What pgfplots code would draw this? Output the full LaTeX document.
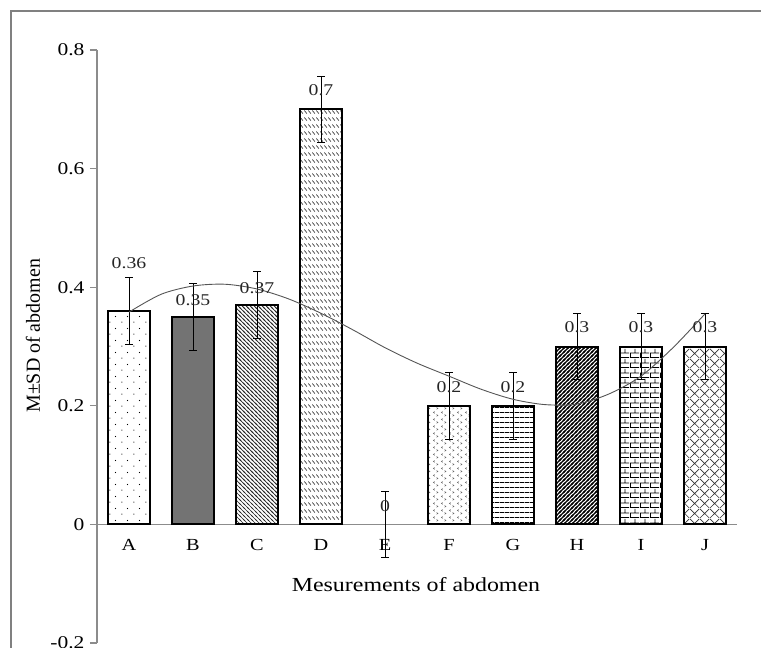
\documentclass[border=0pt]{standalone}
\usepackage{fontspec}
\setmainfont{Liberation Serif}
\newfontfamily\widefont{Liberation Serif}[FakeStretch=1.2]
\usepackage{pgfplots}
\pgfplotsset{compat=1.18}
\usetikzlibrary{patterns,plotmarks}
\definecolor{axgray}{RGB}{140,140,140}
\definecolor{framegray}{RGB}{128,128,128}
\definecolor{curvegray}{RGB}{85,85,85}
\definecolor{bgray}{RGB}{115,115,115}

\pgfdeclarepatternformonly{pA}{\pgfqpoint{0bp}{0bp}}{\pgfqpoint{12bp}{12bp}}{\pgfqpoint{12bp}{12bp}}{%
  \pgfpathcircle{\pgfqpoint{2bp}{2bp}}{0.65bp}\pgfpathcircle{\pgfqpoint{8bp}{8bp}}{0.65bp}\pgfusepath{fill}}
\pgfdeclarepatternformonly{pC}{\pgfqpoint{-1bp}{-1bp}}{\pgfqpoint{5bp}{5bp}}{\pgfqpoint{4bp}{4bp}}{%
  \pgfsetlinewidth{0.7bp}
  \pgfpathmoveto{\pgfqpoint{0bp}{4bp}}\pgfpathlineto{\pgfqpoint{4bp}{0bp}}
  \pgfpathmoveto{\pgfqpoint{-1bp}{1bp}}\pgfpathlineto{\pgfqpoint{1bp}{-1bp}}
  \pgfpathmoveto{\pgfqpoint{3bp}{5bp}}\pgfpathlineto{\pgfqpoint{5bp}{3bp}}
  \pgfusepath{stroke}}
\pgfdeclarepatternformonly{pD}{\pgfqpoint{0bp}{0bp}}{\pgfqpoint{4bp}{7bp}}{\pgfqpoint{4bp}{7bp}}{%
  \pgfsetlinewidth{0.8bp}
  \pgfpathmoveto{\pgfqpoint{0.5bp}{6.2bp}}\pgfpathlineto{\pgfqpoint{3.5bp}{2.8bp}}
  \pgfusepath{stroke}}
\pgfdeclarepatternformonly{pF}{\pgfqpoint{0bp}{0bp}}{\pgfqpoint{8bp}{7bp}}{\pgfqpoint{8bp}{7bp}}{%
  \pgfsetlinewidth{0.6bp}
  \pgfpathmoveto{\pgfqpoint{3bp}{6.2bp}}\pgfpathlineto{\pgfqpoint{1.5bp}{5.2bp}}\pgfpathlineto{\pgfqpoint{3bp}{4.2bp}}
  \pgfpathmoveto{\pgfqpoint{5bp}{2.8bp}}\pgfpathlineto{\pgfqpoint{6.5bp}{1.8bp}}\pgfpathlineto{\pgfqpoint{5bp}{0.8bp}}
  \pgfusepath{stroke}}
\pgfdeclarepatternformonly{pG}{\pgfqpoint{0bp}{0bp}}{\pgfqpoint{5bp}{5bp}}{\pgfqpoint{5bp}{5bp}}{%
  \pgfsetlinewidth{0.8bp}
  \pgfpathmoveto{\pgfqpoint{0bp}{0.5bp}}\pgfpathlineto{\pgfqpoint{5bp}{0.5bp}}
  \pgfusepath{stroke}}
\pgfdeclarepatternformonly{pH}{\pgfqpoint{-1bp}{-1bp}}{\pgfqpoint{5bp}{5bp}}{\pgfqpoint{4bp}{4bp}}{%
  \pgfsetlinewidth{1.3bp}
  \pgfpathmoveto{\pgfqpoint{0bp}{0bp}}\pgfpathlineto{\pgfqpoint{4bp}{4bp}}
  \pgfpathmoveto{\pgfqpoint{-1bp}{3bp}}\pgfpathlineto{\pgfqpoint{1bp}{5bp}}
  \pgfpathmoveto{\pgfqpoint{3bp}{-1bp}}\pgfpathlineto{\pgfqpoint{5bp}{1bp}}
  \pgfusepath{stroke}}
\pgfdeclarepatternformonly{pI}{\pgfqpoint{0bp}{0bp}}{\pgfqpoint{10bp}{10bp}}{\pgfqpoint{10bp}{10bp}}{%
  \pgfsetlinewidth{0.8bp}
  \pgfpathmoveto{\pgfqpoint{0bp}{0.5bp}}\pgfpathlineto{\pgfqpoint{10bp}{0.5bp}}
  \pgfpathmoveto{\pgfqpoint{0bp}{5.5bp}}\pgfpathlineto{\pgfqpoint{10bp}{5.5bp}}
  \pgfpathmoveto{\pgfqpoint{0.5bp}{0.5bp}}\pgfpathlineto{\pgfqpoint{0.5bp}{5.5bp}}
  \pgfpathmoveto{\pgfqpoint{5.5bp}{5.5bp}}\pgfpathlineto{\pgfqpoint{5.5bp}{10bp}}
  \pgfusepath{stroke}}
\pgfdeclarepatternformonly{pJ}{\pgfqpoint{0bp}{0bp}}{\pgfqpoint{10bp}{10bp}}{\pgfqpoint{10bp}{10bp}}{%
  \pgfsetlinewidth{0.7bp}
  \pgfpathmoveto{\pgfqpoint{0bp}{0bp}}\pgfpathlineto{\pgfqpoint{10bp}{10bp}}
  \pgfpathmoveto{\pgfqpoint{0bp}{10bp}}\pgfpathlineto{\pgfqpoint{10bp}{0bp}}
  \pgfusepath{stroke}}

\pgfplotstableread{
x y lab
0 0.441 0.36
1 0.378 0.35
2 0.399 0.37
3 0.732 0.7
4 0.030 0
5 0.231 0.2
6 0.231 0.2
7 0.332 0.3
8 0.332 0.3
9 0.332 0.3
}\labdata

% ends of the error bars (mean +- SD), for the caps
\pgfplotstableread{
x y
0 0.416
0 0.304
1 0.406
1 0.294
2 0.426
2 0.314
3 0.756
3 0.644
4 0.056
4 -0.056
5 0.256
5 0.144
6 0.256
6 0.144
7 0.356
7 0.244
8 0.356
8 0.244
9 0.356
9 0.244
}\capdata

\pgfplotsset{
  mybar/.style={ybar, bar width=0.66, bar shift=0pt, draw=black, line width=2bp,
    error bars/y dir=both, error bars/y explicit,
    error bars/error mark=none,
    error bars/error bar style={line width=1bp, draw=black, solid}},
}

\begin{document}
\begin{tikzpicture}
\useasboundingbox (0bp,0bp) rectangle (761bp,648bp);
\draw[framegray, line width=2bp] (11bp,-30bp) rectangle (800bp,637bp);
\begin{axis}[
  at={(97bp,5bp)}, anchor=south west,
  scale only axis, width=640bp, height=593bp,
  xmin=-0.5, xmax=9.5, ymin=-0.2, ymax=0.8,
  axis x line*=middle, axis y line*=left,
  axis line style={draw=axgray, line width=1.3bp},
  xtick={0,1,2,3,4,5,6,7,8,9},
  xticklabels={A,B,C,D,E,F,G,H,I,J},
  ytick={-0.2,0,0.2,0.4,0.6,0.8},
  yticklabels={-0.2,0,0.2,0.4,0.6,0.8},
  tick align=outside, major tick length=7bp,
  tick style={draw=axgray, line width=1.3bp},
  xtick style={draw=none},
  hide obscured x ticks=false, hide obscured y ticks=false,
  tick label style={font=\widefont\fontsize{17}{19}\selectfont, text=black},
  yticklabel style={anchor=east, xshift=-2bp, font=\widefont\fontsize{18}{20}\selectfont},
  xticklabel style={anchor=base, yshift=-19bp},
  xlabel={Mesurements of abdomen},
  ylabel={M±SD of abdomen},
  xlabel style={at={(axis description cs:0.4984,0.0978)}, anchor=center, font=\widefont\fontsize{20}{22}\selectfont},
  ylabel style={at={(axis description cs:-0.1,0.518)}, anchor=center, font=\fontsize{20}{22}\selectfont},
  clip=false,
]
\addplot[mybar, pattern=pA, pattern color=black] coordinates {(0,0.36) +- (0,0.056)};
\addplot[mybar, fill=bgray] coordinates {(1,0.35) +- (0,0.056)};
\addplot[mybar, pattern=pC, pattern color=black!85] coordinates {(2,0.37) +- (0,0.056)};
\addplot[mybar, pattern=pD, pattern color=black!80] coordinates {(3,0.70) +- (0,0.056)};
\addplot[mybar, draw=none, fill=none] coordinates {(4,0.0) +- (0,0.056)};
\addplot[mybar, pattern=pF, pattern color=black!60] coordinates {(5,0.20) +- (0,0.056)};
\addplot[mybar, pattern=pG, pattern color=black] coordinates {(6,0.20) +- (0,0.056)};
\addplot[mybar, pattern=pH, pattern color=black] coordinates {(7,0.30) +- (0,0.056)};
\addplot[mybar, pattern=pI, pattern color=black] coordinates {(8,0.30) +- (0,0.056)};
\addplot[mybar, pattern=pJ, pattern color=black!80] coordinates {(9,0.30) +- (0,0.056)};
% caps of the error bars
\addplot[draw=none, mark=none,
  error bars/x dir=both, error bars/x fixed=0.07, error bars/error mark=none,
  error bars/error bar style={line width=1bp, draw=black, solid}]
  table[x=x, y=y] {\capdata};
\addplot[draw=none, mark=none, nodes near coords, point meta=explicit symbolic,
  nodes near coords style={anchor=center, inner sep=0pt, font=\widefont\fontsize{16.5}{18}\selectfont, text=black!85}]
  table[x=x, y=y, meta=lab] {\labdata};
\addplot[smooth, curvegray, line width=0.9bp, mark=none] coordinates {
(0,0.358) (0.5,0.388) (1.0,0.402) (1.5,0.405) (2.0,0.397) (2.5,0.380) (3.0,0.356)
(3.5,0.328) (4.0,0.298) (4.5,0.272) (5.0,0.250) (5.5,0.228) (6.0,0.211) (6.5,0.202)
(7.0,0.203) (7.5,0.220) (8.0,0.250) (8.5,0.298) (9.0,0.355)};
\end{axis}
\end{tikzpicture}
\end{document}
